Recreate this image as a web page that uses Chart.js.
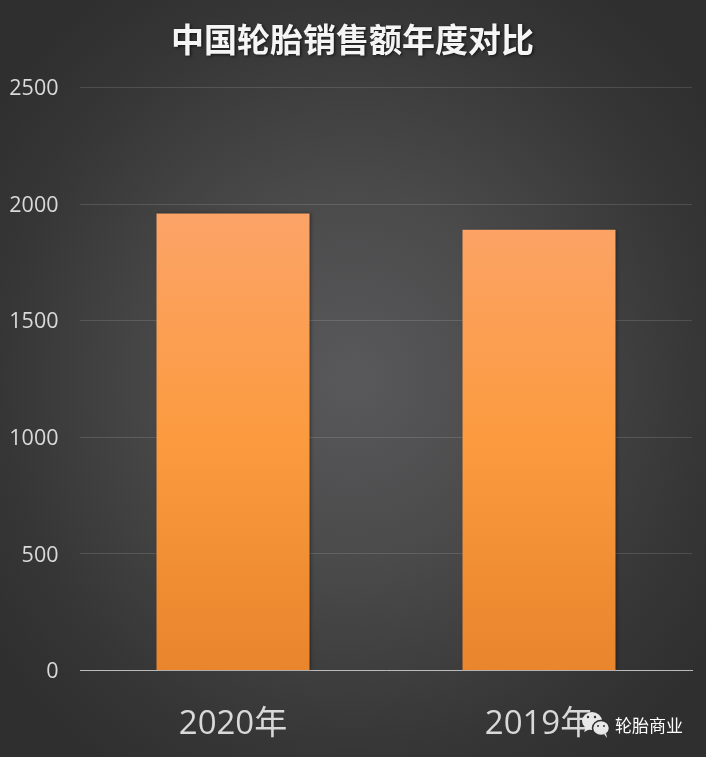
<!DOCTYPE html>
<html><head><meta charset="utf-8">
<style>html,body{margin:0;padding:0;background:#333}
#w{position:relative;width:706px;height:757px;overflow:hidden;background:radial-gradient(ellipse 62% 62% at 50% 50%,#59585a 0%,#4a4a4b 40%,#363636 80%,#2f2f2f 100%)}
canvas{position:absolute;left:0;top:0}
#m{position:absolute;left:615px;top:715px;font:17px "Noto Sans CJK SC";color:#fff;line-height:20px;white-space:nowrap}
svg{position:absolute;left:0;top:0}
</style>
<script src="https://cdn.jsdelivr.net/npm/chart.js@4"></script></head>
<body><div id="w"><canvas id="c" width="706" height="757"></canvas>
<svg width="706" height="757"><g fill="#e8e8e8"><ellipse cx="592" cy="721" rx="10" ry="9"/><path d="M586 727l-2 5 6-3z"/></g><g fill="#e8e8e8" stroke="#2e2e2e" stroke-width="1.5"><ellipse cx="601" cy="728" rx="8.5" ry="7.5"/></g><path d="M604 734l3 4-1-5z" fill="#e8e8e8"/><g fill="#333"><circle cx="588" cy="717" r="1.2"/><circle cx="595" cy="717" r="1.2"/><circle cx="598" cy="726" r="1"/><circle cx="604" cy="726" r="1"/></g></svg>
<div id="m">轮胎商业</div></div>
<script>
const categories=["2020年","2019年"];
const sales=[1960,1890];
const yTicks=[0,500,1000,1500,2000,2500];
const titleText="中国轮胎销售额年度对比";
const fx={id:'fx',
afterLayout(c){const t=c.titleBlock;if(t&&!t._w){t._w=1;const d=t.draw;t.draw=function(){const x=this.ctx;x.save();x.translate(6.5,0.5);x.shadowColor='rgba(0,0,0,.6)';x.shadowBlur=3;x.shadowOffsetX=1.5;x.shadowOffsetY=1.5;d.apply(this,arguments);x.restore();};}},
beforeDatasetsDraw(c){const x=c.ctx;x.save();x.shadowColor='rgba(0,0,0,.35)';x.shadowBlur=3;x.shadowOffsetX=1.5;x.shadowOffsetY=0;},
afterDatasetsDraw(c){c.ctx.restore();}};
const ctx=document.getElementById('c').getContext('2d');
new Chart(ctx,{type:'bar',plugins:[fx],data:{labels:categories,datasets:[{data:sales,barPercentage:0.5,categoryPercentage:1,
backgroundColor(c){const a=c.chart.chartArea;if(!a)return '#f93';const g=c.chart.ctx.createLinearGradient(0,a.top+127,0,a.bottom);g.addColorStop(0,'#fca468');g.addColorStop(0.5,'#fb9a3e');g.addColorStop(1,'#e9852c');return g;}}]},
options:{responsive:false,animation:false,
layout:{padding:{left:0,right:14,top:0,bottom:0}},
plugins:{legend:{display:false},tooltip:{enabled:false},
title:{display:true,text:titleText,color:'#f5f5f5',font:{family:'"Noto Sans CJK SC"',size:33,weight:'bold'},padding:{top:19,bottom:28.9}}},
scales:{y:{min:0,max:2500,afterBuildTicks(s){s.ticks=yTicks.map(v=>({value:v}))},
afterFit(s){s.width=80},
grid:{color:'rgba(255,255,255,0.13)',drawTicks:false},border:{display:false},
ticks:{color:'#d9d9d9',font:{family:'"Open Sans","Noto Sans CJK SC"',size:21.5},padding:21.5,labelOffset:1.5,callback:v=>String(v)}},
x:{grid:{display:false},border:{color:'#bbb'},afterFit(s){s.height=86.5},
ticks:{color:'#d9d9d9',font:{family:'"Open Sans","Noto Sans CJK SC"',size:33},padding:26}}}}});
</script></body></html>
